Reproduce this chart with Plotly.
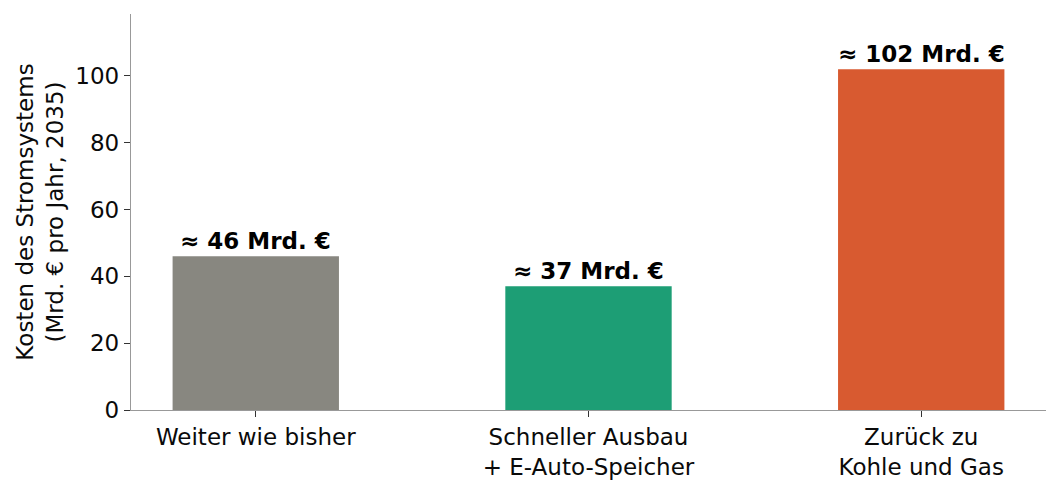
import plotly.graph_objects as go

categories = ["Weiter wie bisher", "Schneller Ausbau<br>+ E-Auto-Speicher", "Zurück zu<br>Kohle und Gas"]
values = [46, 37, 102]
labels = ["≈ 46 Mrd. €", "≈ 37 Mrd. €", "≈ 102 Mrd. €"]
colors = ["#888780", "#1D9E75", "#D85A30"]
yticks = [0, 20, 40, 60, 80, 100]

FONT = "DejaVu Sans"
x_idx = list(range(len(categories)))

fig = go.Figure()
fig.add_trace(go.Bar(
    x=x_idx, y=values, width=0.5,
    marker=dict(color=colors, line=dict(width=0)),
    hoverinfo="skip",
))
for xi, v, lab in zip(x_idx, values, labels):
    fig.add_annotation(x=xi, y=v, text="<b>" + lab + "</b>", showarrow=False,
                       yanchor="bottom", yshift=0,
                       font=dict(family=FONT, size=23, color="#000000"))

fig.update_layout(
    width=1060, height=490,
    margin=dict(l=131, r=14, t=14, b=80),
    plot_bgcolor="white", paper_bgcolor="white",
    showlegend=False,
    font=dict(family=FONT, size=23, color="#000000"),
    xaxis=dict(
        range=[-0.375, 2.375], tickmode="array", tickvals=x_idx, ticktext=categories,
        showline=True, linecolor="#999999", linewidth=1.3,
        ticks="outside", ticklen=6, tickcolor="#333333", tickwidth=1.3,
        showgrid=False, zeroline=False, automargin=False,
        tickfont=dict(family=FONT, size=23, color="#0a0a0a"),
    ),
    yaxis=dict(
        range=[0, 118.5], tickmode="array", tickvals=yticks,
        showline=True, linecolor="#999999", linewidth=1.3,
        ticks="outside", ticklen=6, tickcolor="#333333", tickwidth=1.3,
        showgrid=False, zeroline=False, automargin=False,
        tickfont=dict(family=FONT, size=23, color="#0a0a0a"),
        title=dict(text="Kosten des Stromsystems<br>(Mrd. € pro Jahr, 2035)",
                   font=dict(family=FONT, size=23, color="#0a0a0a"), standoff=5),
    ),
)

fig.write_html("out.html", config={"displayModeBar": False},
               post_script="document.body.style.margin='0';")
